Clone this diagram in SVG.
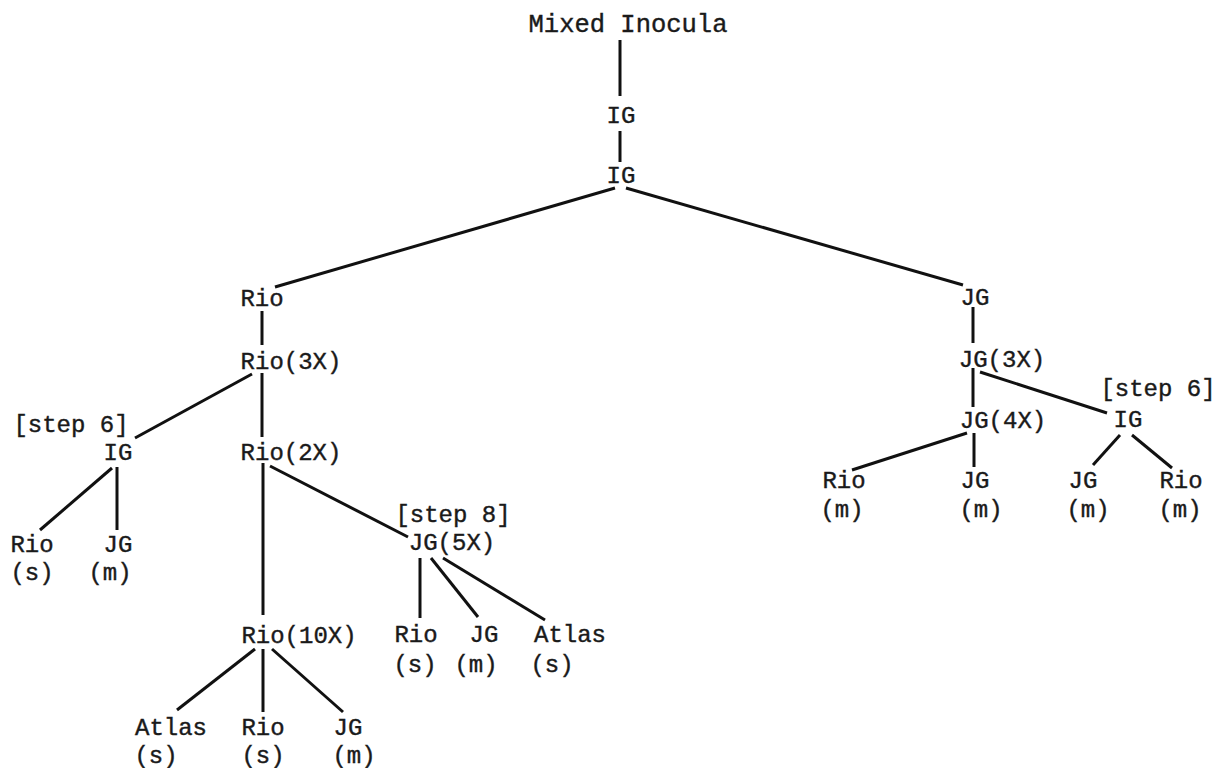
<svg xmlns="http://www.w3.org/2000/svg" width="1217" height="768" viewBox="0 0 1217 768">
<style>
text{font-family:"Liberation Mono","Courier New",monospace;font-size:24px;fill:#1a1a1a;stroke:#1a1a1a;stroke-width:0.4;text-anchor:middle;}
.title{font-size:25.5px;}
.c line{stroke:#111;stroke-width:3;stroke-linecap:butt;}
</style>
<rect width="1217" height="768" fill="#fff"/>
<g id="connectors" class="c">
<line x1="620" y1="40" x2="620" y2="96"/>
<line x1="620" y1="131" x2="620" y2="162"/>
<line x1="615" y1="188" x2="275" y2="287"/>
<line x1="626" y1="188" x2="963" y2="285"/>
<line x1="262" y1="311" x2="262" y2="345"/>
<line x1="252" y1="374" x2="135" y2="438"/>
<line x1="262" y1="373" x2="262" y2="437"/>
<line x1="112" y1="468" x2="40" y2="530"/>
<line x1="117" y1="467" x2="117" y2="530"/>
<line x1="263" y1="463" x2="263" y2="615"/>
<line x1="270" y1="466" x2="408" y2="537"/>
<line x1="420" y1="558" x2="420" y2="618"/>
<line x1="431" y1="558" x2="478" y2="617"/>
<line x1="443" y1="558" x2="545" y2="620"/>
<line x1="255" y1="649" x2="177" y2="710"/>
<line x1="263" y1="649" x2="263" y2="712"/>
<line x1="272" y1="649" x2="343" y2="712"/>
<line x1="973" y1="307" x2="973" y2="343"/>
<line x1="973" y1="368" x2="973" y2="407"/>
<line x1="980" y1="372" x2="1107" y2="413"/>
<line x1="967" y1="433" x2="852" y2="470"/>
<line x1="974" y1="433" x2="974" y2="467"/>
<line x1="1120" y1="435" x2="1093" y2="465"/>
<line x1="1132" y1="435" x2="1172" y2="468"/>
</g>
<g id="n-mixed"><text class="title" x="628" y="32">Mixed Inocula</text></g>
<g id="n-ig1"><text x="621" y="123">IG</text></g>
<g id="n-ig2"><text x="621" y="183">IG</text></g>
<g id="n-rio"><text x="262" y="306">Rio</text></g>
<g id="n-rio3x"><text x="291" y="369">Rio(3X)</text></g>
<g id="n-ig-left"><text x="71" y="432">[step 6]</text><text x="118" y="460">IG</text></g>
<g id="n-rio2x"><text x="291" y="460">Rio(2X)</text></g>
<g id="n-rio-s1"><text x="32" y="552">Rio</text><text x="32" y="580">(s)</text></g>
<g id="n-jg-m1"><text x="118" y="552">JG</text><text x="110" y="580">(m)</text></g>
<g id="n-jg5x"><text x="453" y="522">[step 8]</text><text x="452" y="550">JG(5X)</text></g>
<g id="n-rio10x"><text x="299" y="643">Rio(10X)</text></g>
<g id="n-rio-s2"><text x="416" y="642">Rio</text><text x="415" y="672">(s)</text></g>
<g id="n-jg-m2"><text x="484" y="642">JG</text><text x="476" y="672">(m)</text></g>
<g id="n-atlas-s1"><text x="570" y="642">Atlas</text><text x="552" y="672">(s)</text></g>
<g id="n-atlas-s2"><text x="171" y="735">Atlas</text><text x="156" y="763">(s)</text></g>
<g id="n-rio-s3"><text x="263" y="735">Rio</text><text x="263" y="763">(s)</text></g>
<g id="n-jg-m3"><text x="348" y="735">JG</text><text x="354" y="763">(m)</text></g>
<g id="n-jg"><text x="975" y="305">JG</text></g>
<g id="n-jg3x"><text x="1002" y="367">JG(3X)</text></g>
<g id="n-jg4x"><text x="1003" y="428">JG(4X)</text></g>
<g id="n-ig-right"><text x="1158" y="396">[step 6]</text><text x="1128" y="427">IG</text></g>
<g id="n-rio-m1"><text x="844" y="488">Rio</text><text x="842" y="517">(m)</text></g>
<g id="n-jg-m4"><text x="975" y="488">JG</text><text x="981" y="517">(m)</text></g>
<g id="n-jg-m5"><text x="1083" y="488">JG</text><text x="1088" y="517">(m)</text></g>
<g id="n-rio-m2"><text x="1181" y="488">Rio</text><text x="1180" y="517">(m)</text></g>
</svg>
